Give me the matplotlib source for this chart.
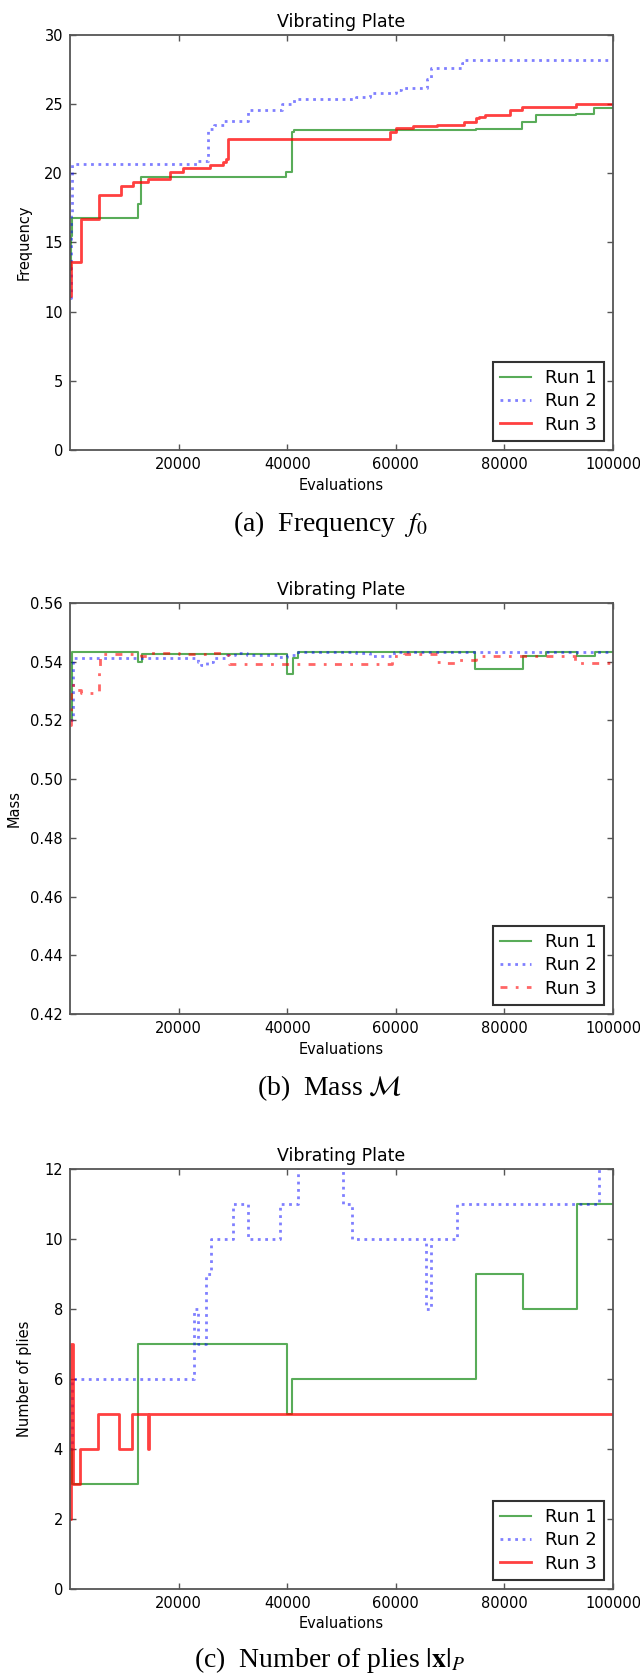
import numpy as np
import matplotlib
matplotlib.use('Agg')
from matplotlib import pyplot as plt

# ---- data ----
evals_ticks = [20000, 40000, 60000, 80000, 100000]
run_labels = ['Run 1', 'Run 2', 'Run 3']

# (a) frequency
freq_run1_x = [0, 150, 300, 12600, 13100, 39800, 40900, 41200, 74700, 83300, 85800, 93100, 96500, 100000]
freq_run1_y = [13.0, 15.5, 16.8, 17.8, 19.7, 20.1, 23.0, 23.1, 23.2, 23.7, 24.2, 24.3, 24.7, 24.7]
freq_run2_x = [0, 200, 400, 23300, 25400, 26500, 28300, 32700, 39000, 41300, 52600, 55200, 60000,
               61000, 65700, 66400, 72100, 72600, 100000]
freq_run2_y = [11.0, 17.0, 20.7, 20.9, 23.2, 23.5, 23.8, 24.6, 25.0, 25.4, 25.5, 25.8, 26.0,
               26.2, 26.8, 27.6, 28.0, 28.2, 28.2]
freq_run3_x = [0, 200, 2100, 5300, 9400, 11600, 14300, 18400, 20900, 25800, 28200, 28700, 29100,
               58900, 60100, 63100, 67600, 72500, 74700, 75400, 76500, 81100, 83300, 93100, 100000]
freq_run3_y = [11.1, 13.6, 16.7, 18.4, 19.1, 19.4, 19.6, 20.1, 20.4, 20.6, 20.8, 21.0, 22.5,
               23.0, 23.3, 23.4, 23.5, 23.7, 24.0, 24.1, 24.2, 24.6, 24.8, 25.0, 25.0]

# (b) mass
mass_run1_x = [0, 300, 12500, 13200, 39900, 41100, 42000, 74600, 83500, 87600, 93300, 96600, 100000]
mass_run1_y = [0.520, 0.5433, 0.5400, 0.5425, 0.5358, 0.5414, 0.5433, 0.5376, 0.5418, 0.5433, 0.5418,
               0.5433, 0.5433]
mass_run2_x = [0, 500, 23600, 24200, 25200, 26400, 29000, 30400, 32600, 38500, 40000, 42000, 52600,
               55200, 59700, 100000]
mass_run2_y = [0.520, 0.5412, 0.5400, 0.5389, 0.5400, 0.5412, 0.5422, 0.5431, 0.5422, 0.5416, 0.5422,
               0.5433, 0.5428, 0.5421, 0.5433, 0.5433]
mass_run3_x = [0, 200, 1200, 2100, 5400, 5600, 13000, 15000, 20000, 26000, 28000, 29200, 59300, 61500,
               67500, 68500, 71000, 74700, 93000, 99400, 100000]
mass_run3_y = [0.5185, 0.5320, 0.5305, 0.5293, 0.5370, 0.5425, 0.5420, 0.5430, 0.5425, 0.5430, 0.5422,
               0.5391, 0.5418, 0.5425, 0.5400, 0.5395, 0.5405, 0.5419, 0.5395, 0.5405, 0.5405]

# (c) number of plies
plies_run1_x = [0, 400, 12500, 39900, 40900, 74700, 83500, 93300, 100000]
plies_run1_y = [4, 3, 7, 5, 6, 9, 8, 11, 11]
plies_run2_x = [0, 300, 22800, 23600, 25100, 25900, 30000, 32700, 38700, 41900, 50200, 52000, 65500,
                66400, 71200, 97400, 100000]
plies_run2_y = [4, 6, 8, 7, 9, 10, 11, 10, 11, 13, 11, 10, 8, 10, 11, 13, 13]
plies_run3_x = [0, 100, 600, 1800, 5200, 9000, 11500, 14300, 14500, 100000]
plies_run3_y = [2, 7, 3, 4, 5, 4, 5, 4, 5, 5]

plt.rcParams['font.family'] = ['DejaVu Sans']
plt.rcParams['mathtext.fontset'] = 'stix'

W, H = 640, 1680
fig = plt.figure(figsize=(W / 100, H / 100), dpi=100, facecolor='white')


def make_axes(top, bottom, left=70, right=613):
    return fig.add_axes([left / W, 1 - bottom / H, (right - left) / W, (bottom - top) / H])


def style(ax, ylabel, ylim, yticks, yfmt, lab_x):
    ax.set_xlim(0, 100000)
    ax.set_ylim(*ylim)
    ax.set_xticks(evals_ticks)
    ax.set_yticks(yticks)
    ax.set_yticklabels([yfmt.format(v) for v in yticks])
    ax.tick_params(direction='in', top=True, right=True, length=4, width=1,
                   color='#555555', labelsize=10.5, pad=5)
    for s in ax.spines.values():
        s.set_color('#555555')
        s.set_linewidth(1.3)
    ax.set_title('Vibrating Plate', fontsize=12.5)
    ax.set_xlabel('Evaluations', fontsize=10.5)
    ax.set_ylabel(ylabel, fontsize=10.5)
    ax.yaxis.set_label_coords(lab_x, 0.5)
    leg = ax.legend(loc='lower right', fontsize=13, fancybox=False, framealpha=1,
                    handlelength=1.7, labelspacing=0.3, borderaxespad=0.5)
    leg.get_frame().set_edgecolor('#333333')
    leg.get_frame().set_linewidth(1.5)


def caption(y, txt):
    fig.text(330 / W, 1 - y / H, txt, ha='center', va='center', fontsize=20,
             family=['Liberation Serif', 'DejaVu Serif'])


# (a)
ax1 = make_axes(35, 450)
ax1.plot(freq_run1_x, freq_run1_y, drawstyle='steps-post', color='g', alpha=0.65, lw=1.5, label=run_labels[0])
ax1.plot(freq_run2_x, freq_run2_y, drawstyle='steps-post', color='b', alpha=0.5, lw=2, ls=':', label=run_labels[1])
ax1.plot(freq_run3_x, freq_run3_y, drawstyle='steps-post', color='r', alpha=0.75, lw=2, label=run_labels[2])
style(ax1, 'Frequency', (0, 30), [0, 5, 10, 15, 20, 25, 30], '{:g}', -0.07)
caption(524, '(a)  Frequency  $f_0$')

# (b)
ax2 = make_axes(603, 1014)
ax2.plot(mass_run1_x, mass_run1_y, drawstyle='steps-post', color='g', alpha=0.65, lw=1.5, label=run_labels[0])
ax2.plot(mass_run2_x, mass_run2_y, drawstyle='steps-post', color='b', alpha=0.5, lw=2, ls=':', label=run_labels[1])
ax2.plot(mass_run3_x, mass_run3_y, drawstyle='steps-post', color='r', alpha=0.6, lw=2,
         dashes=(2.5, 3, 1, 3), label=run_labels[2])
style(ax2, 'Mass', (0.42, 0.56), [0.42, 0.44, 0.46, 0.48, 0.50, 0.52, 0.54, 0.56], '{:.2f}', -0.09)
caption(1088, r'(b)  Mass $\mathcal{M}$')

# (c)
ax3 = make_axes(1169, 1589)
ax3.plot(plies_run1_x, plies_run1_y, drawstyle='steps-post', color='g', alpha=0.65, lw=1.5, label=run_labels[0])
ax3.plot(plies_run2_x, plies_run2_y, drawstyle='steps-post', color='b', alpha=0.5, lw=2, ls=':', label=run_labels[1])
ax3.plot(plies_run3_x, plies_run3_y, drawstyle='steps-post', color='r', alpha=0.75, lw=2, label=run_labels[2])
style(ax3, 'Number of plies', (0, 12), [0, 2, 4, 6, 8, 10, 12], '{:g}', -0.07)
caption(1660, r'(c)  Number of plies $|\mathbf{x}|_P$')

fig.savefig('out.png', dpi=100, facecolor='white')
